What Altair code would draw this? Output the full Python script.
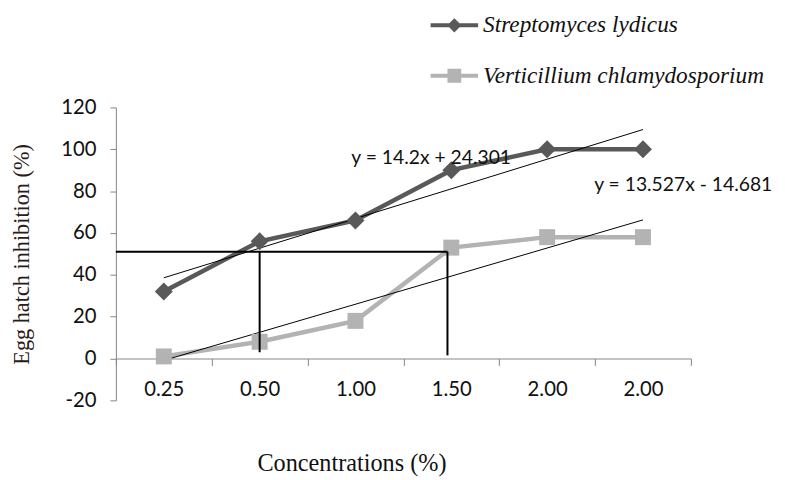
import altair as alt
import pandas as pd

# ---- data ----
categories = ["0.25", "0.50", "1.00", "1.50", "2.00", "2.00"]
positions = [1, 2, 3, 4, 5, 6]
series_names = ["Streptomyces lydicus", "Verticillium chlamydosporium"]
strepto = [32, 56, 66, 90, 100, 100]
vertic = [1, 8, 18, 53, 58, 58]
series_colors = ["#595959", "#b3b3b3"]

eq_labels = ["y = 14.2x + 24.301", "y = 13.527x - 14.681"]
eq_x = [3.79, 6.42]
eq_y = [96, 83]

# drop lines (horizontal at ~51 %, verticals at 0.50 and ~1.50)
seg_x = [0.5, 2.0, 3.96]
seg_x2 = [3.96, 2.0, 3.96]
seg_y = [51, 51, 51]
seg_y2 = [51, 3, 1.5]

y_ticks = [-20, 0, 20, 40, 60, 80, 100, 120]

# ---- tables ----
rows = []
for name, vals in zip(series_names, [strepto, vertic]):
    for p, v in zip(positions, vals):
        rows.append({"series": name, "x": p, "y": v})
df = pd.DataFrame(rows)
eq_df = pd.DataFrame({"x": eq_x, "y": eq_y, "label": eq_labels})
seg_df = pd.DataFrame({"x": seg_x, "x2": seg_x2, "y": seg_y, "y2": seg_y2})

label_js = "[" + ",".join("'%s'" % c for c in categories) + "]"
tick_vals = [p - 0.5 for p in positions] + [positions[-1] + 0.5]

FONT = "Lato"
SERIF = "Liberation Serif"
AX_GRAY = "#868686"

x_scale = alt.Scale(domain=[0.5, 6.5], nice=False, zero=False)
y_scale = alt.Scale(domain=[-20, 120], nice=False, zero=False)

x_axis = alt.Axis(
    values=tick_vals,
    labelExpr="datum.value < %g ? %s[floor(datum.value)] : ''" % (positions[-1], label_js),
    labelOffset=48.4, offset=-42.3, tickSize=7, grid=False,
    domainColor=AX_GRAY, tickColor=AX_GRAY,
    labelFont=FONT, labelFontSize=20.5, labelColor="#111111", labelPadding=14,
    labelOverlap=False, labelFlush=False,
    title="Concentrations (%)", titleFont=SERIF, titleFontSize=24.5,
    titleFontWeight="normal", titleColor="#111111",
    titleX=238, titleY=106, titleBaseline="middle", titleAlign="center",
)
y_axis = alt.Axis(
    values=y_ticks, tickSize=6, grid=False,
    labelExpr="'' + datum.value",
    domainColor=AX_GRAY, tickColor=AX_GRAY,
    labelFont=FONT, labelFontSize=20.5, labelColor="#111111", labelPadding=14,
    title="Egg hatch inhibition (%)", titleFont=SERIF, titleFontSize=22.5,
    titleFontWeight="normal", titleColor="#2a1a1a",
    titleX=-95, titleY=148, titleAngle=-90, titleBaseline="middle", titleAlign="center",
)

X = alt.X("x:Q", scale=x_scale, axis=x_axis)
Y = alt.Y("y:Q", scale=y_scale, axis=y_axis)
color_scale = alt.Scale(domain=series_names, range=series_colors)

base = alt.Chart(df)

lines = base.mark_line(strokeWidth=4.5).encode(
    x=X, y=Y, color=alt.Color("series:N", scale=color_scale, legend=None)
)
points = base.mark_point(filled=True, opacity=1).encode(
    x=X, y=Y,
    color=alt.Color("series:N", scale=color_scale, legend=None),
    shape=alt.Shape("series:N", scale=alt.Scale(domain=series_names, range=["diamond", "square"]), legend=None),
    size=alt.Size("series:N", scale=alt.Scale(domain=series_names, range=[330, 260]), legend=None),
)

trend = base.transform_regression("x", "y", groupby=["series"], extent=[1, 6]).mark_line(
    color="black", strokeWidth=1
).encode(x=X, y=Y, detail="series:N")

drops = alt.Chart(seg_df).mark_rule(color="black", strokeWidth=2).encode(
    x=X, y=Y, x2="x2:Q", y2="y2:Q"
)

eqs = alt.Chart(eq_df).mark_text(font=FONT, fontSize=19.5, color="#111111").encode(
    x=X, y=Y, text="label:N"
)

path_d = "M-1,-0.085L1,-0.085L1,0.085L-1,0.085Z M0,-0.3L0.3,0L0,0.3L-0.3,0Z"
path_s = "M-1,-0.085L1,-0.085L1,0.085L-1,0.085Z M-0.29,-0.29L0.29,-0.29L0.29,0.29L-0.29,0.29Z"
leg = alt.Legend(
    title=None, orient="none", legendX=318, legendY=-107,
    symbolSize=2304, symbolStrokeWidth=0, symbolOpacity=1,
    labelFont=SERIF, labelFontStyle="italic", labelFontSize=23.5, labelColor="#111111",
    labelLimit=500, rowPadding=15, labelOffset=5,
)
legend_layer = base.mark_point(filled=True, opacity=0).encode(
    x=X, y=Y,
    color=alt.Color("series:N", scale=color_scale, legend=leg),
    shape=alt.Shape("series:N", scale=alt.Scale(domain=series_names, range=[path_d, path_s]), legend=leg),
)

chart = alt.layer(lines, trend, points, drops, eqs, legend_layer).resolve_scale(
    color="independent", shape="independent", size="independent"
).properties(
    width=581, height=296,
    padding={"left": 109, "top": 98, "right": 87, "bottom": 78},
    autosize=alt.AutoSizeParams(type="none"),
).configure_view(stroke=None)

chart.save("out.html", embed_options={"renderer": "svg", "actions": False})
